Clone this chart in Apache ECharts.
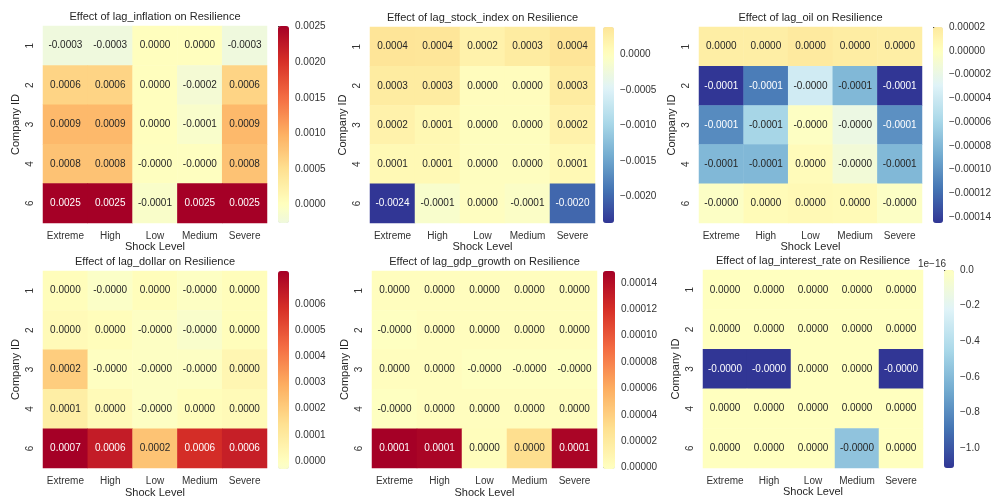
<!DOCTYPE html>
<html>
<head>
<meta charset="utf-8">
<script src="https://cdn.jsdelivr.net/npm/echarts@6/dist/echarts.min.js"></script>
<style>
  html, body { margin: 0; padding: 0; background: #fff; }
  #chart { width: 994px; height: 499px; }
</style>
</head>
<body>
<div id="chart"></div>
<script>
// categories
const shockLevels = ["Extreme", "High", "Low", "Medium", "Severe"];
const companyIds = ["1", "2", "3", "4", "6"];

// effect values, rows = company 1,2,3,4,6 ; cols = shock levels
const inflation = [
  [-0.00026, -0.00026, 0.00001, 0.00001, -0.00026],
  [0.00062, 0.00062, 0.00001, -0.00018, 0.00062],
  [0.00090, 0.00090, 0.00001, -0.00010, 0.00090],
  [0.00080, 0.00080, -0.000004, -0.00001, 0.00080],
  [0.00251, 0.00251, -0.00009, 0.00251, 0.00251],
];
const stockIndex = [
  [0.00039, 0.00038, 0.00020, 0.00030, 0.00039],
  [0.00030, 0.00030, 0.00003, 0.00003, 0.00030],
  [0.00020, 0.00012, 0.00002, 0.00002, 0.00020],
  [0.00010, 0.00010, 0.00001, 0.00001, 0.00010],
  [-0.00237, -0.00011, 0.00000, -0.00006, -0.00200],
];
const oil = [
  [0.000016, 0.000016, 0.00002, 0.000017, 0.000016],
  [-0.000145, -0.000112, -0.000038, -0.00008, -0.000145],
  [-0.000105, -0.00006, -0.000002, -0.000018, -0.000102],
  [-0.00008, -0.00008, 0.000003, -0.000012, -0.00008],
  [-0.000003, 0.000004, 0.000006, 0.000005, -0.000003],
];
const dollar = [
  [0.00001, -0.00002, 0.00001, -0.00001, 0.00001],
  [0.00002, 0.00001, -0.00001, -0.00003, 0.00001],
  [0.00020, -0.000005, -0.00001, -0.00001, 0.00004],
  [0.00008, 0.00002, -0.00001, 0.00001, 0.00002],
  [0.000725, 0.00064, 0.00023, 0.00059, 0.00063],
];
const gdpGrowth = [
  [0.000001, 0.000001, 0.000001, 0.000001, 0.000001],
  [-0.000001, 0.000001, 0.000001, 0.000001, 0.000001],
  [0.000001, 0.000001, -0.000001, -0.000001, -0.000001],
  [-0.000001, 0.000001, 0.000001, 0.000001, 0.000001],
  [0.000149, 0.000146, 0.000002, 0.00003, 0.000146],
];
const interestRate = [
  [0, 0, 0, 0, 0],
  [0, 0, 0, 0, 0],
  [-1.11e-16, -1.11e-16, 0, 0, -1.11e-16],
  [0, 0, 0, 0, 0],
  [0, 0, 0, -5.55e-17, 0],
];

// colorbar tick values
const inflationTicks = [0, 0.0005, 0.001, 0.0015, 0.002, 0.0025];
const stockIndexTicks = [0, -0.0005, -0.001, -0.0015, -0.002];
const oilTicks = [0.00002, 0, -0.00002, -0.00004, -0.00006, -0.00008, -0.0001, -0.00012, -0.00014];
const dollarTicks = [0, 0.0001, 0.0002, 0.0003, 0.0004, 0.0005, 0.0006];
const gdpGrowthTicks = [0, 0.00002, 0.00004, 0.00006, 0.00008, 0.0001, 0.00012, 0.00014];
const interestRateTicks = [0, -0.2e-16, -0.4e-16, -0.6e-16, -0.8e-16, -1.0e-16];

const panels = [
  { name: "lag_inflation", data: inflation, ticks: inflationTicks, fmt: v => v.toFixed(4) },
  { name: "lag_stock_index", data: stockIndex, ticks: stockIndexTicks, fmt: v => v.toFixed(4) },
  { name: "lag_oil", data: oil, ticks: oilTicks, fmt: v => v.toFixed(5) },
  { name: "lag_dollar", data: dollar, ticks: dollarTicks, fmt: v => v.toFixed(4) },
  { name: "lag_gdp_growth", data: gdpGrowth, ticks: gdpGrowthTicks, fmt: v => v.toFixed(5) },
  { name: "lag_interest_rate", data: interestRate, ticks: interestRateTicks, fmt: v => (v / 1e-16).toFixed(1), offset: "1e\u221216" },
];

// layout (pixels)
const layout = [
  { left: 43, top: 26, width: 224, height: 197, cbLeft: 278, cbWidth: 11 },
  { left: 370, top: 27, width: 225, height: 196, cbLeft: 603, cbWidth: 11 },
  { left: 699, top: 27, width: 223, height: 196, cbLeft: 933, cbWidth: 10 },
  { left: 43, top: 271, width: 224, height: 198, cbLeft: 278, cbWidth: 11 },
  { left: 372, top: 271, width: 225, height: 198, cbLeft: 603, cbWidth: 12 },
  { left: 703, top: 270, width: 220, height: 198, cbLeft: 944, cbWidth: 10 },
];

// RdYlBu_r colormap, centred on 0 like seaborn's center=0
const RDYLBU_R = ["#313695", "#4575b4", "#74add1", "#abd9e9", "#e0f3f8", "#ffffbf",
  "#fee090", "#fdae61", "#f46d43", "#d73027", "#a50026"];
const hexToRgb = h => [1, 3, 5].map(i => parseInt(h.slice(i, i + 2), 16));
function cmap(t) {
  t = Math.max(0, Math.min(1, t));
  const s = t * 10;
  const i = Math.min(Math.floor(s), 9);
  const f = s - i;
  const a = hexToRgb(RDYLBU_R[i]), b = hexToRgb(RDYLBU_R[i + 1]);
  return a.map((c, k) => Math.round(c + (b[k] - c) * f));
}
const toHex = rgb => "#" + rgb.map(c => c.toString(16).padStart(2, "0")).join("");
function luminance(rgb) {
  const lin = rgb.map(c => {
    c /= 255;
    return c <= 0.03928 ? c / 12.92 : Math.pow((c + 0.055) / 1.055, 2.4);
  });
  return 0.2126 * lin[0] + 0.7152 * lin[1] + 0.0722 * lin[2];
}

const FONT = "Liberation Sans, Arial, sans-serif";
const TXT = "#262626";
const minus = s => s.replace(/-/g, "\u2212");

const option = {
  backgroundColor: "#fff",
  animation: false,
  textStyle: { fontFamily: FONT },
  title: [],
  grid: [],
  xAxis: [],
  yAxis: [],
  visualMap: [],
  series: [],
};

panels.forEach((p, i) => {
  const L = layout[i];
  const flat = p.data.flat();
  const vmin = Math.min(...flat);
  const vmax = Math.max(...flat);
  const vr = Math.max(Math.abs(vmin), Math.abs(vmax));
  const colorOf = v => cmap(0.5 + v / (2 * vr));
  const samples = [];
  for (let k = 0; k <= 40; k++) samples.push(toHex(colorOf(vmin + (vmax - vmin) * k / 40)));

  option.title.push({
    text: "Effect of " + p.name + " on Resilience",
    left: L.left + L.width / 2,
    top: L.top - 15,
    textAlign: "center",
    padding: 0,
    textStyle: { fontSize: 11, fontWeight: "normal", color: TXT, fontFamily: FONT },
  });

  // heatmap grid
  option.grid.push({ left: L.left, top: L.top, width: L.width, height: L.height });
  option.xAxis.push({
    type: "category", gridIndex: 2 * i, data: shockLevels,
    axisLine: { show: false }, axisTick: { show: false }, splitLine: { show: false },
    axisLabel: { fontSize: 10, color: "#333", margin: 8, interval: 0 },
    name: "Shock Level", nameLocation: "middle", nameGap: 18,
    nameTextStyle: { fontSize: 11, color: TXT },
  });
  option.yAxis.push({
    type: "category", gridIndex: 2 * i, data: companyIds, inverse: true,
    axisLine: { show: false }, axisTick: { show: false }, splitLine: { show: false },
    axisLabel: { fontSize: 10, color: "#333", rotate: 90, margin: 8, interval: 0 },
    name: "Company ID", nameLocation: "middle", nameGap: 22, nameRotate: 90,
    nameTextStyle: { fontSize: 11, color: TXT },
  });

  // colorbar axis grid
  option.grid.push({ left: L.cbLeft, top: L.top, width: L.cbWidth, height: L.height });
  option.xAxis.push({ type: "value", gridIndex: 2 * i + 1, show: false });
  option.yAxis.push({
    type: "value", gridIndex: 2 * i + 1, position: "right", min: vmin, max: vmax,
    axisLine: { show: false }, splitLine: { show: false },
    axisTick: { show: true, customValues: p.ticks, length: 4, lineStyle: { color: "#333" } },
    axisLabel: { customValues: p.ticks, margin: 6, fontSize: 10, color: "#333",
      formatter: v => minus(p.fmt(v)) },
    name: p.offset || "", nameLocation: "end", nameGap: 1,
    nameTextStyle: { fontSize: 10, color: "#333", align: "right", padding: [0, -2, 0, 0] },
  });

  option.visualMap.push({
    type: "continuous", seriesIndex: i, dimension: 2,
    min: vmin, max: vmax, calculable: false, hoverLink: false,
    orient: "vertical", left: L.cbLeft, top: L.top, padding: 0,
    itemWidth: L.cbWidth, itemHeight: L.height, text: null,
    inRange: { color: samples },
  });

  const cells = [];
  p.data.forEach((row, r) => row.forEach((v, c) => {
    const lum = luminance(colorOf(v));
    cells.push({ value: [c, r, v], label: { color: lum > 0.408 ? TXT : "#fff" } });
  }));
  option.series.push({
    type: "heatmap", xAxisIndex: 2 * i, yAxisIndex: 2 * i, data: cells,
    label: { show: true, fontSize: 10, fontFamily: FONT, formatter: d => d.value[2].toFixed(4) },
    emphasis: { disabled: true },
  });
});

const chart = echarts.init(document.getElementById("chart"));
chart.setOption(option);
</script>
</body>
</html>
